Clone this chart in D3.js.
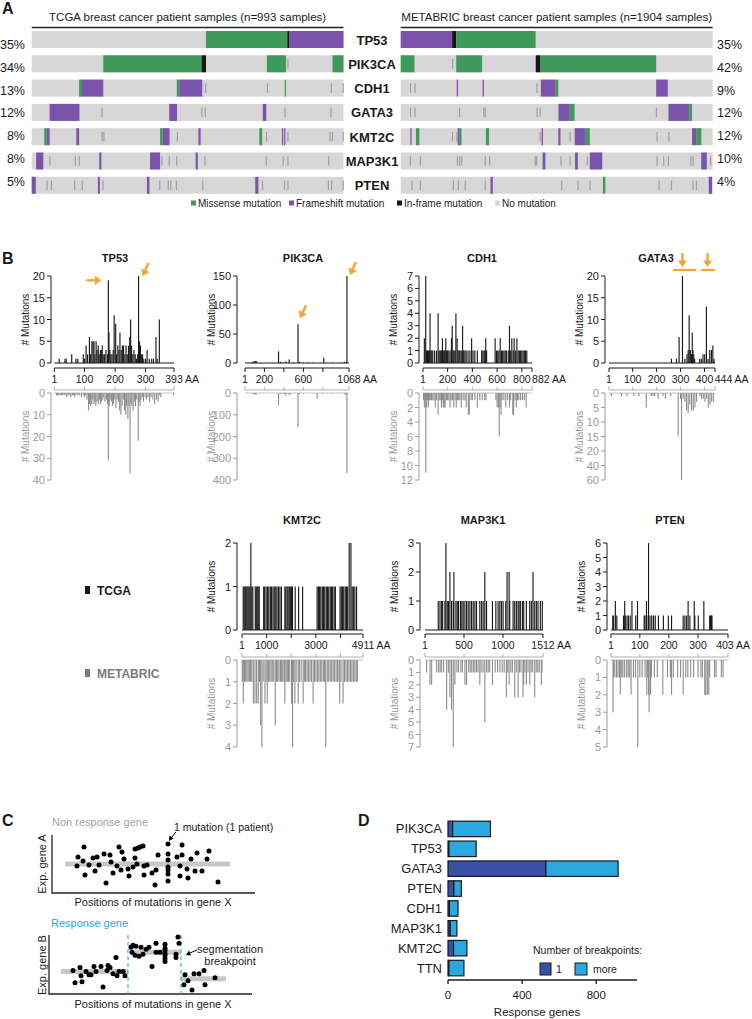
<!DOCTYPE html>
<html><head><meta charset="utf-8">
<script src="https://cdn.jsdelivr.net/npm/d3@7"></script>
<style>body{margin:0;background:#fff}svg{font-family:"Liberation Sans",Arial,sans-serif;display:block}</style>
</head><body><svg width="752" height="1019"></svg>
<script>
// ================= DATA =================
// Panel A: oncoprint (segments: [startSample, endSample, type]; M=missense, F=frameshift, I=in-frame, O=other)
const genesA = ["TP53","PIK3CA","CDH1","GATA3","KMT2C","MAP3K1","PTEN"];
const pctTCGA = ["35%","34%","13%","12%","8%","8%","5%"];
const pctMETABRIC = ["35%","42%","9%","12%","12%","10%","4%"];
const nTCGA = 993, nMETABRIC = 1904;
const legendA = [["M","Missense mutation"],["F","Frameshift mutation"],["I","In-frame mutation"],["N","No mutation"]];

const tcgaTP53 = [[555,814,"M"],[814,821,"I"],[821,993,"F"]];
const tcgaPIK3CA = [[228,541,"M"],[541,555,"I"],[749,810,"M"],[814,815,"O"],[958,993,"M"]];
const tcgaCDH1 = [[151,160,"M"],[160,228,"F"],[462,470,"M"],[470,543,"F"],[552,553,"O"],[749,750,"O"],[806,809,"M"],[952,954,"O"],[990,991,"O"]];
const tcgaGATA3 = [[57,152,"F"],[222,225,"O"],[438,463,"F"],[540,541,"O"],[551,552,"O"],[736,747,"F"],[805,806,"O"],[951,952,"O"]];
const tcgaKMT2C = [[40,48,"M"],[48,57,"F"],[142,151,"F"],[222,223,"O"],[228,229,"O"],[409,417,"M"],[417,439,"F"],[462,463,"O"],[531,538,"F"],[725,734,"M"],[746,747,"O"],[797,800,"F"],[804,807,"F"],[814,815,"O"],[948,949,"O"],[956,957,"O"],[990,991,"O"]];
const tcgaMAP3K1 = [[14,37,"F"],[56,57,"O"],[137,138,"O"],[150,151,"O"],[215,222,"F"],[377,409,"F"],[413,414,"O"],[436,437,"O"],[460,461,"O"],[522,529,"F"],[550,551,"O"],[745,746,"O"],[799,800,"O"],[814,815,"O"],[944,947,"O"]];
const tcgaPTEN = [[0,13,"F"],[47,48,"O"],[61,62,"O"],[135,136,"O"],[159,160,"O"],[211,217,"F"],[225,226,"O"],[367,375,"F"],[406,407,"O"],[433,434,"O"],[441,442,"O"],[459,460,"O"],[543,544,"O"],[712,722,"F"],[733,734,"O"],[803,804,"O"],[814,815,"O"],[943,944,"O"],[953,954,"O"],[990,991,"O"]];

const mbTP53 = [[0,314,"F"],[314,339,"I"],[339,823,"M"]];
const mbPIK3CA = [[0,84,"M"],[314,316,"O"],[339,497,"M"],[824,853,"I"],[853,1559,"M"]];
const mbCDH1 = [[57,59,"O"],[84,86,"O"],[342,350,"F"],[500,508,"F"],[828,830,"O"],[855,946,"F"],[946,962,"M"],[1559,1630,"F"]];
const mbGATA3 = [[57,59,"O"],[84,86,"O"],[356,360,"O"],[504,506,"O"],[512,514,"O"],[828,830,"O"],[847,849,"O"],[963,1032,"F"],[1032,1061,"M"],[1557,1559,"O"],[1634,1761,"F"],[1761,1778,"M"]];
const mbKMT2C = [[59,63,"F"],[93,114,"M"],[312,314,"O"],[339,341,"O"],[348,360,"F"],[360,371,"M"],[520,539,"M"],[847,849,"O"],[860,868,"F"],[962,975,"F"],[1030,1032,"O"],[1062,1129,"F"],[1129,1154,"M"],[1561,1563,"O"],[1633,1635,"O"],[1778,1803,"F"],[1803,1835,"M"]];
const mbMAP3K1 = [[55,57,"O"],[116,118,"O"],[343,345,"O"],[356,358,"O"],[369,371,"O"],[512,514,"O"],[539,541,"O"],[817,819,"O"],[826,828,"O"],[866,883,"F"],[975,977,"O"],[1030,1032,"O"],[1064,1081,"F"],[1135,1137,"O"],[1154,1230,"F"],[1561,1563,"O"],[1601,1603,"O"],[1630,1632,"O"],[1767,1769,"O"],[1780,1782,"O"],[1834,1868,"F"],[1887,1889,"O"]];
const mbPTEN = [[65,67,"O"],[116,118,"O"],[318,320,"O"],[348,350,"O"],[390,392,"O"],[512,514,"O"],[548,562,"F"],[979,981,"O"],[1079,1081,"O"],[1152,1154,"O"],[1234,1249,"M"],[1573,1575,"O"],[1649,1651,"O"],[1780,1782,"O"],[1801,1803,"O"],[1880,1900,"F"]];

// Panel B: mutation counts per amino-acid position [position, count]
const tp53Tcga = [[17,1],[36,1],[40,1],[58,2],[72,1],[78,1],[96,2],[100,1],[105,4],[110,2],[116,6],[120,2],[124,5],[128,5],[131,5],[134,2],[138,5],[141,3],[145,4],[148,2],[152,3],[155,3],[158,4],[161,2],[165,2],[170,3],[175,2],[178,19],[180,7],[183,3],[186,2],[190,2],[194,3],[197,11],[202,9],[205,2],[209,4],[213,3],[216,7],[220,3],[224,4],[228,4],[232,2],[236,4],[240,2],[244,4],[248,6],[251,10],[254,4],[258,2],[262,3],[266,2],[270,1],[274,2],[277,20],[280,5],[283,4],[286,2],[290,2],[294,1],[300,1],[305,3],[312,1],[320,1],[326,1],[334,6],[338,1],[345,10]];
const tp53Mb = [[8,1],[12,1],[16,1],[20,1],[24,1],[28,1],[33,1],[37,1],[42,2],[46,1],[50,1],[55,2],[60,1],[64,1],[68,2],[72,1],[78,1],[84,1],[90,2],[96,1],[100,2],[104,1],[108,3],[113,8],[116,5],[120,6],[124,5],[127,3],[131,5],[134,4],[137,6],[141,4],[145,5],[149,3],[152,5],[156,4],[160,3],[163,2],[167,4],[172,3],[175,5],[178,31],[181,6],[184,3],[188,4],[192,6],[195,5],[199,3],[203,7],[207,3],[211,4],[215,8],[219,10],[223,6],[227,3],[231,8],[235,10],[238,6],[242,12],[245,6],[249,37],[252,5],[255,6],[259,8],[263,4],[267,6],[271,3],[276,22],[279,4],[282,6],[285,3],[289,2],[293,4],[298,2],[303,3],[308,2],[313,4],[318,2],[324,3],[330,5],[336,3],[341,4],[346,1],[350,2],[392,1]];
const pik3caTcga = [[76,2],[93,3],[100,1],[106,3],[113,4],[120,2],[345,20],[365,2],[390,1],[420,3],[453,6],[500,1],[545,67],[560,2],[600,1],[650,1],[700,1],[810,9],[900,1],[1000,1],[1025,2],[1043,2],[1047,150]];
const pik3caMb = [[80,5],[90,3],[105,8],[110,4],[118,6],[345,57],[365,4],[390,3],[410,5],[420,12],[453,10],[470,5],[545,158],[560,5],[600,2],[741,25],[800,3],[900,2],[1020,4],[1035,10],[1047,369]];
const cdh1Tcga = [[12,2],[23,7],[30,1],[38,1],[45,1],[52,1],[58,4],[65,1],[72,1],[80,1],[95,1],[110,1],[123,4],[130,1],[138,1],[145,1],[152,1],[158,2],[165,1],[172,1],[178,1],[185,2],[192,1],[200,1],[210,1],[220,1],[231,2],[237,3],[245,1],[252,1],[260,1],[267,4],[277,2],[285,1],[293,1],[300,1],[310,1],[321,3],[330,1],[340,1],[350,1],[365,1],[380,1],[394,2],[405,1],[420,1],[440,1],[475,1],[485,1],[495,1],[502,1],[508,2],[515,1],[584,2],[595,1],[605,1],[615,1],[625,2],[635,1],[645,1],[655,1],[665,1],[675,1],[690,1],[700,3],[710,1],[719,2],[730,1],[738,2],[750,1],[760,2],[770,1],[780,1],[790,1],[800,1],[810,1],[820,1],[830,1],[840,1]];
const cdh1Mb = [[5,1],[12,2],[18,1],[23,11],[30,2],[38,1],[45,2],[52,1],[60,1],[70,1],[80,1],[90,1],[100,2],[110,1],[123,3],[132,1],[140,1],[150,2],[158,1],[165,2],[172,2],[180,2],[190,1],[200,1],[210,1],[220,2],[228,1],[240,1],[250,2],[260,1],[270,2],[280,1],[290,1],[300,1],[310,2],[325,1],[340,1],[350,2],[367,3],[375,3],[390,1],[400,1],[420,1],[440,2],[460,1],[480,1],[500,1],[510,1],[590,1],[600,2],[610,2],[617,6],[625,2],[632,3],[640,1],[655,1],[670,2],[685,1],[700,2],[710,1],[727,3],[733,3],[745,1],[755,2],[765,1],[775,1],[790,1],[805,1],[820,1],[835,2]];
const gata3Tcga = [[262,1],[283,1],[294,6],[308,20],[318,1],[327,2],[332,3],[336,11],[341,3],[346,2],[349,7],[352,3],[355,2],[359,1],[380,1],[387,1],[394,2],[401,2],[408,13],[415,1],[422,3],[429,3],[435,4],[440,1]];
const gata3Mb = [[11,1],[53,1],[76,1],[105,1],[126,1],[157,5],[178,1],[185,1],[192,1],[206,2],[227,1],[237,2],[259,1],[290,15],[300,2],[304,60],[311,2],[318,3],[325,6],[332,7],[339,4],[346,6],[353,6],[360,5],[367,3],[381,1],[388,2],[395,2],[402,3],[409,2],[416,5],[423,4],[430,3],[437,3]];
const kmt2cTcga = [[50,1],[90,1],[130,1],[160,1],[200,1],[240,1],[280,1],[320,1],[360,2],[400,1],[440,1],[540,1],[580,1],[620,1],[660,1],[700,1],[880,1],[920,1],[980,1],[1040,1],[1090,1],[1150,1],[1200,1],[1260,1],[1310,1],[1370,1],[1420,1],[1480,1],[1540,1],[1600,1],[1740,1],[1780,1],[1830,1],[1870,1],[1920,1],[1960,1],[2010,1],[2050,1],[2160,1],[2300,1],[2460,1],[3050,1],[3100,1],[3150,1],[3200,1],[3260,1],[3310,1],[3360,1],[3420,1],[3470,1],[3520,1],[3580,1],[3630,1],[3680,1],[3740,1],[3790,1],[3980,1],[4030,1],[4080,1],[4130,1],[4190,1],[4240,1],[4290,1],[4350,2],[4420,2],[4470,1],[4520,1],[4580,1],[4650,1]];
const kmt2cMb = [[10,1],[55,2],[100,1],[150,1],[200,1],[250,1],[300,1],[350,1],[400,1],[460,2],[527,2],[595,2],[662,2],[710,1],[757,3],[810,4],[860,1],[932,2],[980,1],[1026,2],[1080,1],[1130,1],[1180,1],[1230,1],[1290,1],[1350,3],[1400,1],[1450,1],[1500,1],[1560,1],[1610,1],[1660,1],[1710,1],[1741,2],[1790,1],[1840,1],[1890,1],[1940,1],[2011,2],[2052,4],[2100,1],[2146,2],[2200,1],[2281,2],[2330,1],[2400,1],[2483,2],[2530,1],[2580,1],[2640,1],[2700,1],[2760,1],[2820,1],[2888,2],[2940,1],[3000,1],[3060,1],[3120,1],[3180,1],[3240,1],[3300,1],[3350,1],[3400,4],[3460,1],[3520,1],[3580,1],[3640,1],[3700,1],[3760,1],[3820,1],[3880,1],[3940,1],[3967,2],[4020,1],[4102,2],[4160,1],[4220,1],[4280,1],[4340,1],[4400,1],[4460,1],[4520,1],[4580,1],[4640,1],[4680,1]];
const map3k1Tcga = [[171,1],[193,1],[214,1],[227,1],[256,1],[269,3],[286,1],[303,1],[320,2],[341,1],[363,1],[371,2],[397,1],[414,1],[431,1],[456,1],[473,1],[490,1],[512,1],[533,1],[554,1],[576,1],[597,1],[618,1],[640,1],[661,1],[703,1],[725,1],[746,1],[767,2],[789,1],[865,1],[908,1],[937,1],[959,1],[980,1],[1001,1],[1035,1],[1052,2],[1078,2],[1086,1],[1129,1],[1150,1],[1171,1],[1193,1],[1205,1],[1222,1],[1248,1],[1265,1],[1299,1],[1342,1],[1363,1],[1384,2],[1406,1],[1427,1],[1448,1],[1478,1],[1503,1]];
const map3k1Mb = [[22,1],[65,2],[86,2],[150,1],[175,1],[195,1],[215,1],[240,1],[278,4],[300,1],[320,3],[341,4],[363,7],[384,2],[410,1],[430,1],[460,1],[480,1],[512,2],[533,2],[560,1],[580,1],[600,1],[620,1],[640,1],[660,1],[680,1],[703,2],[720,1],[745,1],[767,5],[790,1],[810,1],[830,1],[865,2],[900,1],[930,1],[960,1],[990,1],[1015,1],[1043,3],[1060,1],[1078,2],[1100,1],[1120,1],[1150,3],[1170,1],[1193,3],[1210,1],[1230,1],[1256,3],[1265,2],[1280,1],[1299,2],[1320,1],[1342,2],[1360,1],[1380,1],[1406,3],[1425,1],[1445,1],[1465,1],[1491,2],[1500,1]];
const ptenTcga = [[7,1],[10,1],[16,2],[21,1],[44,1],[48,2],[50,1],[56,1],[61,1],[67,1],[73,2],[86,1],[92,2],[115,1],[118,1],[123,2],[124,1],[130,6],[135,1],[141,1],[147,1],[153,1],[164,1],[181,1],[198,1],[209,1],[249,1],[255,1],[261,1],[266,2],[272,1],[287,2],[289,1],[301,1],[320,2],[340,1],[343,1],[346,1],[348,1]];
const ptenMb = [[8,3],[10,1],[14,1],[20,1],[25,1],[30,1],[33,2],[38,1],[42,1],[48,1],[55,1],[60,1],[65,1],[70,2],[78,1],[85,1],[93,5],[100,1],[108,1],[118,1],[124,2],[127,1],[130,2],[132,3],[137,2],[140,1],[150,1],[160,1],[179,2],[195,1],[205,1],[209,2],[215,1],[230,1],[240,1],[249,2],[258,1],[265,1],[275,1],[285,1],[300,1],[310,1],[315,1],[323,2],[327,2],[332,2],[337,2],[340,1],[357,1],[362,1],[380,1],[386,1]];

// Panel C: schematic points [position, expression]
const nonRespPts = [[25,27],[26,36],[32,46],[31,32],[33,18],[37,28],[41,35],[43,22],[45,36],[47,28],[52,39],[54,10],[58,38],[59,31],[61,20],[65,27],[67,46],[69,23],[70,41],[72,34],[76,24],[77,17],[81,26],[83,35],[83,44],[85,29],[86,45],[88,46],[91,47],[92,18],[92,27],[95,28],[100,20],[103,8],[104,23],[106,38],[116,49],[116,39],[116,33],[116,26],[116,23],[116,19],[116,12],[125,36],[128,27],[128,17],[130,48],[130,38],[135,24],[136,15],[139,34],[143,22],[145,40],[150,22],[155,34],[157,42],[166,11]];
const nonRespMean = [[13,29],[178,29]];
const respPts = [[24,23],[26,11],[31,26],[32,18],[33,12],[37,22],[40,19],[42,19],[45,27],[47,22],[52,27],[54,7],[58,23],[59,28],[61,26],[64,20],[67,36],[68,18],[70,22],[74,22],[76,18],[82,46],[83,41],[84,48],[86,38],[87,47],[90,37],[92,46],[94,39],[97,44],[100,46],[103,27],[107,50],[107,41],[111,41],[116,49],[116,45],[116,43],[116,40],[116,38],[116,35],[116,32],[127,36],[129,56],[130,50],[127,39],[136,19],[135,9],[139,13],[143,4],[145,20],[150,20],[155,23],[156,9],[166,16]];
const respSegments = [[12,79,22],[81,132,41],[132,177,15]];
const respBreaks = [79,132];

// Panel D
const dGenes = ["PIK3CA","TP53","GATA3","PTEN","CDH1","MAP3K1","KMT2C","TTN"];
const dOne = [25,5,528,32,8,12,30,5];
const dMore = [204,147,390,40,46,36,72,81];
const dTicks = [0,400,800];

// ================= DRAW =================
const svg = d3.select("svg");
const INK = "#1a1a1a", ORANGE = "#f4a334", BLUE = "#2aa9e0", DARKBLUE = "#3a4fa6";

function label(g, x, y, txt, o = {}) {
  return g.append("text").attr("x", x).attr("y", y).text(txt)
    .attr("font-size", o.size || 11).attr("font-weight", o.bold ? "bold" : null)
    .attr("fill", o.fill || INK).attr("text-anchor", o.anchor || "start");
}
[["A",2,14],["B",2,264],["C",2,826],["D",358,826]].forEach(d => label(svg, d[1], d[2], d[0], {size:16, bold:true}));

// ---------- Panel A
const gA = svg.append("g");
const rowBand = d3.scaleBand().domain(genesA).range([31, 193.8]).paddingInner(0.3);
const pctY = d3.scalePoint().domain(genesA).range([44.3, 181.5]);
const xT = d3.scaleLinear().domain([0, nTCGA]).range([31.7, 343.5]);
const xMB = d3.scaleLinear().domain([0, nMETABRIC]).range([400.7, 712.7]);
const mutColor = d3.scaleOrdinal().domain(["M","F","I","O","N"]).range(["#3d9a58","#7b53ab","#161616","#a0a0a0","#d7d7d7"]);

function drawOnco(xs, segs) {
  genesA.forEach((g, i) => {
    const y0 = rowBand(g), h = rowBand.bandwidth();
    gA.append("rect").attr("x", xs.range()[0]).attr("y", y0)
      .attr("width", xs.range()[1] - xs.range()[0]).attr("height", h).attr("fill", mutColor("N"));
    gA.selectAll(null).data(segs[i]).join("rect")
      .attr("x", d => xs(d[0]))
      .attr("width", d => Math.max(xs(d[1]) - xs(d[0]), 1.2))
      .attr("y", d => d[2] === "O" ? y0 + h * 0.22 : y0)
      .attr("height", d => d[2] === "O" ? h * 0.56 : h)
      .attr("fill", d => mutColor(d[2]));
  });
}
drawOnco(xT, [tcgaTP53, tcgaPIK3CA, tcgaCDH1, tcgaGATA3, tcgaKMT2C, tcgaMAP3K1, tcgaPTEN]);
drawOnco(xMB, [mbTP53, mbPIK3CA, mbCDH1, mbGATA3, mbKMT2C, mbMAP3K1, mbPTEN]);

label(gA, (xT.range()[0] + xT.range()[1]) / 2, 21, "TCGA breast cancer patient samples (n=993 samples)", {size:11.5, anchor:"middle"});
label(gA, (xMB.range()[0] + xMB.range()[1]) / 2, 21, "METABRIC breast cancer patient samples (n=1904 samples)", {size:11.5, anchor:"middle"});
[xT, xMB].forEach(s => gA.append("line").attr("x1", s.range()[0]).attr("x2", s.range()[1]).attr("y1", 27.5).attr("y2", 27.5).attr("stroke", "#222").attr("stroke-width", 1.4));

genesA.forEach((g, i) => {
  label(gA, 25, pctY(g) + 4.5, pctTCGA[i], {size:12.5, anchor:"end"});
  label(gA, 717, pctY(g) + 4.5, pctMETABRIC[i], {size:12.5});
  label(gA, 372, rowBand(g) + rowBand.bandwidth() / 2 + 5, g, {size:13, bold:true, anchor:"middle"});
});
const legX = [191, 289, 397, 495];
legendA.forEach((d, i) => {
  gA.append("rect").attr("x", legX[i]).attr("y", 200.5).attr("width", 5).attr("height", 5).attr("fill", mutColor(d[0]));
  label(gA, legX[i] + 7, 206.5, d[1], {size:10});
});

// ---------- Panel B
const gB = svg.append("g");
const rowsB = [
  {title:258, top:[363, 276], axisY:368, lab:383, bracket:390, bot:[393, 480]},
  {title:520, top:[630, 543], axisY:634, lab:649, bracket:657, bot:[660, 747]}
];
const lollis = [
  {gene:"TP53", len:393, row:0, ax:51, tx:115, xr:[54.3,174], xt:[1,100,200,300,393], xl:["1","100","200","300","393"], tMax:20, tTicks:[0,5,10,15,20], bDom:[0,40], bTicks:[0,10,20,30,40], tc:tp53Tcga, mb:tp53Mb},
  {gene:"PIK3CA", len:1068, row:0, ax:237, tx:303, xr:[245,349], xt:[1,200,400,600,800,1068], xl:["1","200","","600","","1068"], tMax:150, tTicks:[0,50,100,150], bDom:[0,400], bTicks:[0,100,200,300,400], tc:pik3caTcga, mb:pik3caMb},
  {gene:"CDH1", len:882, row:0, ax:419, tx:482, xr:[423,532], xt:[1,200,400,600,800,882], xl:["1","200","400","600","800","882"], tMax:7, tTicks:[0,1,2,3,4,5,6,7], bDom:[0,12], bTicks:[0,2,4,6,8,10,12], tc:cdh1Tcga, mb:cdh1Mb},
  {gene:"GATA3", len:444, row:0, ax:605, tx:656, xr:[609,715], xt:[1,100,200,300,400,444], xl:["1","100","200","300","400","444"], tMax:20, tTicks:[0,5,10,15,20], bDom:[0,20,60], bTicks:[0,5,10,15,20,40,60], tc:gata3Tcga, mb:gata3Mb},
  {gene:"KMT2C", len:4911, row:1, ax:237, tx:302, xr:[242,363], xt:[1,1000,2000,3000,4000,4911], xl:["1","1000","","3000","","4911"], tMax:2, tTicks:[0,1,2], bDom:[0,4], bTicks:[0,1,2,3,4], tc:kmt2cTcga, mb:kmt2cMb},
  {gene:"MAP3K1", len:1512, row:1, ax:420, tx:483, xr:[425,543], xt:[1,500,1000,1512], xl:["1","500","1000","1512"], tMax:3, tTicks:[0,1,2,3], bDom:[0,7], bTicks:[0,1,2,3,4,5,6,7], tc:map3k1Tcga, mb:map3k1Mb},
  {gene:"PTEN", len:403, row:1, ax:607, tx:670, xr:[611,728], xt:[1,100,200,300,403], xl:["1","100","200","300","403"], tMax:6, tTicks:[0,1,2,3,4,5,6], bDom:[0,5], bTicks:[0,1,2,3,4,5], tc:ptenTcga, mb:ptenMb}
];
const GRAY = "#9a9a9a", GRAYBAR = "#8c8c8c";
const scalesB = {};
lollis.forEach(L => {
  const R = rowsB[L.row];
  const x = d3.scaleLinear().domain([1, L.len]).range(L.xr);
  const yT = d3.scaleLinear().domain([0, L.tMax]).range(R.top);
  const bRange = L.bDom.length === 3 ? [R.bot[0], R.bot[0] + (R.bot[1] - R.bot[0]) * 4 / 6, R.bot[1]] : R.bot;
  const yB = d3.scaleLinear().domain(L.bDom).range(bRange);
  scalesB[L.gene] = {x, yT, yB};
  const g = gB.append("g");
  label(g, L.tx, R.title + 4, L.gene, {size:11, bold:true, anchor:"middle"});
  // top y-axis
  g.append("line").attr("x1", L.ax).attr("x2", L.ax).attr("y1", yT(0)).attr("y2", yT(L.tMax)).attr("stroke", INK);
  L.tTicks.forEach(t => {
    g.append("line").attr("x1", L.ax - 4).attr("x2", L.ax).attr("y1", yT(t)).attr("y2", yT(t)).attr("stroke", INK);
    label(g, L.ax - 6, yT(t) + 4, t, {size:11, anchor:"end"});
  });
  g.append("text").attr("transform", `translate(${L.ax - 22},${(R.top[0] + R.top[1]) / 2}) rotate(-90)`)
    .attr("text-anchor", "middle").attr("font-size", 10).attr("fill", INK).text("# Mutations");
  // baseline + TCGA bars
  g.append("line").attr("x1", x(1)).attr("x2", x(L.len)).attr("y1", yT(0)).attr("y2", yT(0)).attr("stroke", INK);
  g.selectAll(null).data(L.tc).join("line")
    .attr("x1", d => x(d[0])).attr("x2", d => x(d[0]))
    .attr("y1", yT(0)).attr("y2", d => yT(d[1])).attr("stroke", INK).attr("stroke-width", 1.15);
  // x axis
  g.append("line").attr("x1", x(1)).attr("x2", x(L.len)).attr("y1", R.axisY).attr("y2", R.axisY).attr("stroke", INK);
  let prevEnd = -Infinity;
  L.xt.forEach((t, i) => {
    g.append("line").attr("x1", x(t)).attr("x2", x(t)).attr("y1", R.axisY).attr("y2", R.axisY + 4).attr("stroke", INK);
    if (!L.xl[i]) return;
    if (i === L.xt.length - 1) {
      const num = label(g, 0, R.lab, L.xl[i], {size:10.5});
      const nw = num.node().getComputedTextLength();
      num.remove();
      const tEl = label(g, 0, R.lab, L.xl[i] + " AA", {size:10.5});
      const w = tEl.node().getComputedTextLength();
      let sx = Math.max(x(t) - nw / 2, prevEnd + 1.5);
      sx = Math.min(sx, 750 - w);
      tEl.attr("x", sx);
    } else {
      const tEl = label(g, x(t), R.lab, L.xl[i], {size:10.5, anchor:"middle"});
      prevEnd = x(t) + tEl.node().getComputedTextLength() / 2;
    }
  });
  // bracket (METABRIC x axis)
  g.append("path").attr("d", `M${x(1)},${R.bracket - 4}V${R.bracket}H${x(L.len)}V${R.bracket - 4}`)
    .attr("fill", "none").attr("stroke", "#b0b0b0");
  L.xt.slice(1, -1).forEach(t => g.append("line").attr("x1", x(t)).attr("x2", x(t)).attr("y1", R.bracket - 3).attr("y2", R.bracket).attr("stroke", "#b0b0b0"));
  // bottom y-axis
  g.append("line").attr("x1", L.ax).attr("x2", L.ax).attr("y1", yB(0)).attr("y2", yB(L.bDom[L.bDom.length - 1])).attr("stroke", GRAY);
  L.bTicks.forEach(t => {
    g.append("line").attr("x1", L.ax - 4).attr("x2", L.ax).attr("y1", yB(t)).attr("y2", yB(t)).attr("stroke", GRAY);
    label(g, L.ax - 6, yB(t) + 4, t, {size:11, anchor:"end", fill:GRAY});
  });
  g.append("text").attr("transform", `translate(${L.ax - 22},${(R.bot[0] + R.bot[1]) / 2}) rotate(-90)`)
    .attr("text-anchor", "middle").attr("font-size", 10).attr("fill", GRAY).text("# Mutations");
  g.append("line").attr("x1", x(1)).attr("x2", x(L.len)).attr("y1", yB(0)).attr("y2", yB(0)).attr("stroke", "#c4c4c4");
  g.selectAll(null).data(L.mb).join("line")
    .attr("x1", d => x(d[0])).attr("x2", d => x(d[0]))
    .attr("y1", yB(0)).attr("y2", d => yB(d[1])).attr("stroke", GRAYBAR).attr("stroke-width", 1.1);
});
// orange arrows
function arrow(x1, y1, x2, y2) {
  const a = Math.atan2(y2 - y1, x2 - x1), s = 6.5;
  gB.append("line").attr("x1", x1).attr("y1", y1).attr("x2", x2 - Math.cos(a) * s * 0.8).attr("y2", y2 - Math.sin(a) * s * 0.8)
    .attr("stroke", ORANGE).attr("stroke-width", 2.4);
  const p = [[x2, y2],
    [x2 - s * Math.cos(a) + s * 0.7 * Math.sin(a), y2 - s * Math.sin(a) - s * 0.7 * Math.cos(a)],
    [x2 - s * Math.cos(a) - s * 0.7 * Math.sin(a), y2 - s * Math.sin(a) + s * 0.7 * Math.cos(a)]];
  gB.append("path").attr("d", "M" + p.join("L") + "Z").attr("fill", ORANGE);
}
{
  const s = scalesB.TP53;
  arrow(s.x(178) - 22, s.yT(19), s.x(178) - 7, s.yT(19));
  arrow(s.x(277) + 10, s.yT(20) - 13, s.x(277) + 4, s.yT(20));
  const p = scalesB.PIK3CA;
  arrow(p.x(1047) + 9, p.yT(150) - 14, p.x(1047) + 3, p.yT(150) - 1);
  arrow(p.x(545) + 8, p.yT(67) - 19, p.x(545) + 2, p.yT(67) - 6);
  const q = scalesB.GATA3;
  [[308, 268, 365], [413, 386, 444]].forEach(d => {
    arrow(q.x(d[0]), 253, q.x(d[0]), 267);
    gB.append("line").attr("x1", q.x(d[1])).attr("x2", q.x(d[2])).attr("y1", 270).attr("y2", 270).attr("stroke", ORANGE).attr("stroke-width", 2.2);
  });
}
gB.append("rect").attr("x", 85).attr("y", 586).attr("width", 5).attr("height", 8).attr("fill", INK);
label(gB, 97, 594.5, "TCGA", {size:12, bold:true});
gB.append("rect").attr("x", 85).attr("y", 669).attr("width", 5).attr("height", 8).attr("fill", "#7a7a7a");
label(gB, 97, 677.5, "METABRIC", {size:12, bold:true, fill:"#7a7a7a"});

// ---------- Panel C
const gC = svg.append("g");
function scatterPanel(xr, yr) {
  const x = d3.scaleLinear().domain([0, 203]).range(xr);
  const y = d3.scaleLinear().domain([0, 58]).range(yr);
  gC.append("path").attr("d", `M${xr[0]},${yr[1]}V${yr[0]}H${xr[1]}`).attr("fill", "none").attr("stroke", "#222").attr("stroke-width", 1.3);
  return {x, y};
}
const c1 = scatterPanel([52, 255], [893, 835]);
gC.append("line").attr("x1", c1.x(nonRespMean[0][0])).attr("x2", c1.x(nonRespMean[1][0])).attr("y1", c1.y(nonRespMean[0][1])).attr("y2", c1.y(nonRespMean[1][1]))
  .attr("stroke", "#c8c8c8").attr("stroke-width", 5);
gC.selectAll(null).data(nonRespPts).join("circle").attr("cx", d => c1.x(d[0])).attr("cy", d => c1.y(d[1])).attr("r", 2.5).attr("fill", "#000");
label(gC, 52, 826, "Non response gene", {size:11, fill:"#a3a3a3"});
label(gC, 174, 831, "1 mutation (1 patient)", {size:10.5});
gC.append("line").attr("x1", 176).attr("y1", 832).attr("x2", 171).attr("y2", 838).attr("stroke", "#000").attr("stroke-width", 1);
gC.append("path").attr("d", "M169,841L169.5,835.5L173.5,838.5Z").attr("fill", "#000");
gC.append("text").attr("transform", "translate(46,864) rotate(-90)").attr("text-anchor", "middle").attr("font-size", 11).attr("fill", INK).text("Exp. gene A");
label(gC, 153, 906, "Positions of mutations in gene X", {size:11, anchor:"middle"});

const c2 = scatterPanel([49, 252], [994, 935]);
respSegments.forEach(d => gC.append("line").attr("x1", c2.x(d[0])).attr("x2", c2.x(d[1])).attr("y1", c2.y(d[2])).attr("y2", c2.y(d[2])).attr("stroke", "#c8c8c8").attr("stroke-width", 5));
respBreaks.forEach(b => gC.append("line").attr("x1", c2.x(b)).attr("x2", c2.x(b)).attr("y1", 935).attr("y2", 994).attr("stroke", BLUE).attr("stroke-width", 1.1).attr("stroke-dasharray", "4,3"));
gC.selectAll(null).data(respPts).join("circle").attr("cx", d => c2.x(d[0])).attr("cy", d => c2.y(d[1])).attr("r", 2.5).attr("fill", "#000");
label(gC, 51, 927, "Response gene", {size:11, fill:BLUE});
label(gC, 230, 953, "segmentation", {size:11, anchor:"middle"});
label(gC, 230, 965, "breakpoint", {size:11, anchor:"middle"});
gC.append("line").attr("x1", 197).attr("y1", 950).attr("x2", 190).attr("y2", 953).attr("stroke", "#000");
gC.append("path").attr("d", "M186,955L189,950.5L191,955.5Z").attr("fill", "#000");
gC.append("text").attr("transform", "translate(46,965) rotate(-90)").attr("text-anchor", "middle").attr("font-size", 11).attr("fill", INK).text("Exp. gene B");
label(gC, 153, 1008, "Positions of mutations in gene X", {size:11, anchor:"middle"});

// ---------- Panel D
const gD = svg.append("g");
const xD = d3.scaleLinear().domain([0, 1020]).range([448, 637]);
const yD = d3.scaleBand().domain(dGenes).range([819, 978]).paddingInner(0.22).paddingOuter(0.11);
dGenes.forEach((g, i) => {
  gD.append("rect").attr("x", xD(0)).attr("y", yD(g)).attr("width", xD(dOne[i]) - xD(0)).attr("height", yD.bandwidth())
    .attr("fill", DARKBLUE).attr("stroke", INK).attr("stroke-width", 1.2);
  gD.append("rect").attr("x", xD(dOne[i])).attr("y", yD(g)).attr("width", xD(dOne[i] + dMore[i]) - xD(dOne[i])).attr("height", yD.bandwidth())
    .attr("fill", BLUE).attr("stroke", INK).attr("stroke-width", 1.2);
  label(gD, 442, yD(g) + yD.bandwidth() / 2 + 4.5, g, {size:13, anchor:"end"});
});
gD.append("line").attr("x1", xD(0)).attr("x2", xD(1020)).attr("y1", 980).attr("y2", 980).attr("stroke", INK).attr("stroke-width", 1.3);
dTicks.forEach(t => {
  gD.append("line").attr("x1", xD(t)).attr("x2", xD(t)).attr("y1", 980).attr("y2", 984).attr("stroke", INK).attr("stroke-width", 1.3);
  label(gD, xD(t), 999, t, {size:11.5, anchor:"middle"});
});
label(gD, 537, 1016, "Response genes", {size:11.5, anchor:"middle"});
label(gD, 533, 954, "Number of breakpoints:", {size:10.5});
gD.append("rect").attr("x", 540).attr("y", 963).attr("width", 11).attr("height", 12).attr("fill", DARKBLUE).attr("stroke", INK);
label(gD, 556, 973, "1", {size:10.5});
gD.append("rect").attr("x", 575).attr("y", 963).attr("width", 12).attr("height", 12).attr("fill", BLUE).attr("stroke", INK);
label(gD, 593, 973, "more", {size:10.5});
</script></body></html>
